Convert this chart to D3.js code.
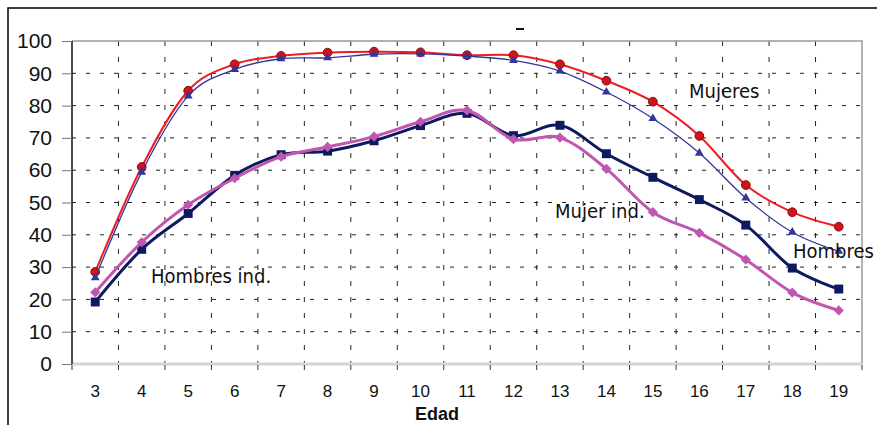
<!DOCTYPE html>
<html>
<head>
<meta charset="utf-8">
<script src="https://cdn.jsdelivr.net/npm/d3@7"></script>
<style>
  body { margin: 0; background: #fff; }
  svg { display: block; }
</style>
</head>
<body>
<svg id="chart" width="877" height="425"></svg>
<script>
const ages = [3, 4, 5, 6, 7, 8, 9, 10, 11, 12, 13, 14, 15, 16, 17, 18, 19];
const yTicks = [0, 10, 20, 30, 40, 50, 60, 70, 80, 90, 100];

const mujeres = [28.5, 61, 84.6, 92.8, 95.4, 96.4, 96.7, 96.5, 95.6, 95.6, 92.8, 87.7, 81.2, 70.6, 55.4, 47, 42.5];
const hombres = [26.7, 59.4, 83, 91.2, 94.5, 94.8, 95.9, 96, 95.3, 94, 90.7, 84.2, 76, 65.3, 51.4, 40.8, 34.9];
const hombresInd = [19.2, 35.5, 46.6, 58.4, 64.8, 65.9, 69.1, 73.8, 77.6, 70.7, 73.9, 65.1, 57.8, 50.9, 43, 29.7, 23.2];
const mujerInd = [22.2, 37.7, 49.3, 57.5, 64.2, 67.2, 70.4, 75, 78.5, 69.6, 70.1, 60.4, 47, 40.6, 32.3, 22.1, 16.6];

const svg = d3.select('#chart');
const width = 877;
const height = 425;
const margin = { top: 41, right: 15, bottom: 61, left: 72 };

const x = d3.scaleBand().domain(ages).range([margin.left, width - margin.right]).padding(0);
const y = d3.scaleLinear().domain([0, 100]).range([height - margin.bottom, margin.top]);

const x0 = margin.left;
const x1 = width - margin.right;
const yBottom = y(0);
const yTop = y(100);

// outer frame (cropped chart border)
svg.append('path')
  .attr('d', `M8,${height} V8 H${width}`)
  .attr('fill', 'none')
  .attr('stroke', '#000')
  .attr('stroke-width', 1.5);

svg.append('rect')
  .attr('x', 516).attr('y', 28)
  .attr('width', 8).attr('height', 2)
  .attr('fill', '#111');

// horizontal gridlines
svg.append('g')
  .selectAll('line')
  .data(yTicks.filter((d) => d > 0 && d < 100))
  .join('line')
  .attr('x1', x0).attr('x2', x1)
  .attr('y1', (d) => y(d)).attr('y2', (d) => y(d))
  .attr('stroke', '#222')
  .attr('stroke-width', 1)
  .attr('stroke-dasharray', '4,10');

// vertical gridlines at category boundaries
svg.append('g')
  .selectAll('line')
  .data(ages.slice(1))
  .join('line')
  .attr('x1', (d) => x(d)).attr('x2', (d) => x(d))
  .attr('y1', yTop).attr('y2', yBottom)
  .attr('stroke', '#222')
  .attr('stroke-width', 1)
  .attr('stroke-dasharray', '5,11');

// plot border top / right
svg.append('path')
  .attr('d', `M${x0},${yTop} H${x1} V${yBottom}`)
  .attr('fill', 'none')
  .attr('stroke', '#999')
  .attr('stroke-width', 1.5);

// bottom axis line + tick marks at boundaries
svg.append('line')
  .attr('x1', x0).attr('x2', x1)
  .attr('y1', yBottom).attr('y2', yBottom)
  .attr('stroke', '#d4d4d4')
  .attr('stroke-width', 3);

svg.append('g')
  .selectAll('line')
  .data(ages.map((a) => x(a)).concat([x1]))
  .join('line')
  .attr('x1', (d) => d).attr('x2', (d) => d)
  .attr('y1', yBottom + 1).attr('y2', yBottom + 6)
  .attr('stroke', '#333')
  .attr('stroke-width', 1);

// x labels
const xAxis = d3.axisBottom(x).tickSize(0).tickPadding(21);
const gx = svg.append('g')
  .attr('transform', `translate(0,${yBottom})`)
  .call(xAxis);
gx.select('.domain').remove();
gx.selectAll('text')
  .attr('font-family', '"Liberation Sans", Arial, sans-serif')
  .attr('font-size', 17)
  .attr('fill', '#111');

// y axis
const yAxis = d3.axisLeft(y).tickValues(yTicks).tickSize(10).tickPadding(10);
const gy = svg.append('g')
  .attr('transform', `translate(${x0},0)`)
  .call(yAxis);
gy.select('.domain')
  .attr('d', `M0,${yTop}V${yBottom}`)
  .attr('stroke', '#111')
  .attr('stroke-width', 1.5);
gy.selectAll('.tick line').attr('stroke', '#777');
gy.selectAll('text')
  .attr('font-family', '"Liberation Sans", Arial, sans-serif')
  .attr('font-size', 21)
  .attr('fill', '#111');

svg.append('text')
  .attr('x', 437)
  .attr('y', 420)
  .attr('text-anchor', 'middle')
  .attr('font-family', '"Liberation Sans", Arial, sans-serif')
  .attr('font-weight', 'bold')
  .attr('font-size', 18)
  .attr('fill', '#111')
  .text('Edad');

// series
const cx = (i) => x(ages[i]) + x.bandwidth() / 2;
const line = d3.line()
  .x((d, i) => cx(i))
  .y((d) => y(d))
  .curve(d3.curveCatmullRom.alpha(0));

const series = [
  { name: 'Hombres ind.', values: hombresInd, color: '#0e1a60', width: 3, symbol: d3.symbolSquare, size: 80, rotate: 0 },
  { name: 'Mujer ind.', values: mujerInd, color: '#c056b0', width: 3, symbol: d3.symbolSquare, size: 52, rotate: 45 },
  { name: 'Mujeres', values: mujeres, color: '#ee1c24', width: 2, symbol: d3.symbolCircle, size: 60, rotate: 0 },
  { name: 'Hombres', values: hombres, color: '#33359a', width: 1.3, symbol: d3.symbolTriangle, size: 34, rotate: 0 }
];

series.forEach((s) => {
  svg.append('path')
    .datum(s.values)
    .attr('fill', 'none')
    .attr('stroke', s.color)
    .attr('stroke-width', s.width)
    .attr('stroke-linejoin', 'round')
    .attr('d', line);

  svg.append('g')
    .selectAll('path')
    .data(s.values)
    .join('path')
    .attr('transform', (d, i) => `translate(${cx(i)},${y(d)}) rotate(${s.rotate})`)
    .attr('d', d3.symbol().type(s.symbol).size(s.size))
    .attr('fill', s.symbol === d3.symbolCircle ? '#d0141c' : s.color)
    .attr('stroke', s.symbol === d3.symbolCircle ? '#8a0a0a' : 'none')
    .attr('stroke-width', 1);
});

// series labels
const labels = [
  { text: 'Mujeres', x: 689, y: 98 },
  { text: 'Mujer ind.', x: 555, y: 218 },
  { text: 'Hombres', x: 793, y: 258 },
  { text: 'Hombres ind.', x: 151, y: 283 }
];

svg.append('g')
  .selectAll('text')
  .data(labels)
  .join('text')
  .attr('x', (d) => d.x)
  .attr('y', (d) => d.y)
  .attr('font-family', '"DejaVu Sans Condensed", "DejaVu Sans", sans-serif')
  .attr('font-stretch', 'condensed')
  .attr('font-size', 20)
  .attr('fill', '#111')
  .text((d) => d.text);
</script>
</body>
</html>
